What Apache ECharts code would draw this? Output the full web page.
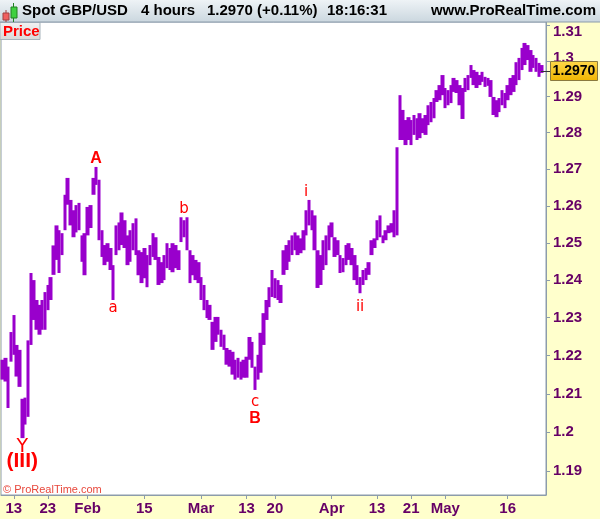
<!DOCTYPE html>
<html><head><meta charset="utf-8">
<script src="https://cdn.jsdelivr.net/npm/echarts@6/dist/echarts.min.js"></script>
<style>html,body{margin:0;padding:0;background:#ffffcc;} #c{width:600px;height:519px;}</style>
</head><body><div id="c"></div>
<script>
// 12-hour slots (two per trading day), high / low of Spot GBP/USD
const highs = [
1.2189,1.2194,1.2171,1.2262,1.2307,1.2228,1.2215,1.2087,1.2090,1.2240,
1.2419,1.2400,1.2347,1.2334,1.2347,1.2368,1.2387,1.2408,1.2493,1.2547,
1.2534,1.2526,1.2630,1.2676,1.2616,1.2588,1.2602,1.2608,1.2520,1.2526,
1.2597,1.2602,1.2676,1.2706,1.2671,1.2534,1.2494,1.2499,1.2486,1.2440,
1.2547,1.2555,1.2582,1.2561,1.2520,1.2534,1.2553,1.2566,1.2480,1.2475,
1.2486,1.2467,1.2494,1.2526,1.2515,1.2462,1.2448,1.2467,1.2499,1.2486,
1.2499,1.2494,1.2480,1.2569,1.2561,1.2569,1.2480,1.2467,1.2454,1.2448,
1.2408,1.2387,1.2347,1.2334,1.2289,1.2302,1.2302,1.2268,1.2255,1.2220,
1.2215,1.2210,1.2189,1.2194,1.2184,1.2189,1.2197,1.2249,1.2236,1.2171,
1.2202,1.2260,1.2312,1.2347,1.2381,1.2427,1.2405,1.2400,1.2387,1.2480,
1.2494,1.2507,1.2520,1.2528,1.2520,1.2512,1.2534,1.2588,1.2616,1.2588,
1.2574,1.2480,1.2467,1.2507,1.2520,1.2547,1.2555,1.2515,1.2507,1.2467,
1.2459,1.2494,1.2499,1.2486,1.2467,1.2440,1.2408,1.2427,1.2432,1.2448,
1.2507,1.2512,1.2561,1.2574,1.2520,1.2534,1.2547,1.2553,1.2588,1.2760,
1.2904,1.2863,1.2835,1.2843,1.2835,1.2849,1.2840,1.2854,1.2840,1.2849,
1.2876,1.2885,1.2896,1.2918,1.2932,1.2960,1.2924,1.2918,1.2932,1.2952,
1.2946,1.2932,1.2924,1.2952,1.2960,1.2988,1.2974,1.2969,1.2960,1.2969,
1.2955,1.2952,1.2946,1.2899,1.2890,1.2896,1.2918,1.2910,1.2932,1.2952,
1.2960,1.2996,1.3008,1.3036,1.3050,1.3044,1.3030,1.3016,1.3008,1.2994,
1.2988,null];
const lows = [
1.2137,1.2132,1.2063,1.2184,1.2202,1.2145,1.2118,1.1985,1.2020,1.2040,
1.2228,1.2294,1.2268,1.2255,1.2268,1.2268,1.2320,1.2347,1.2414,1.2454,
1.2419,1.2467,1.2534,1.2603,1.2547,1.2515,1.2528,1.2534,1.2449,1.2413,
1.2520,1.2540,1.2630,1.2657,1.2507,1.2462,1.2440,1.2449,1.2427,1.2347,
1.2467,1.2480,1.2494,1.2486,1.2440,1.2449,1.2480,1.2467,1.2413,1.2392,
1.2405,1.2381,1.2440,1.2462,1.2454,1.2387,1.2392,1.2400,1.2432,1.2427,
1.2421,1.2432,1.2427,1.2502,1.2515,1.2480,1.2392,1.2413,1.2400,1.2392,
1.2347,1.2320,1.2299,1.2294,1.2215,1.2236,1.2255,1.2223,1.2215,1.2176,
1.2171,1.2150,1.2137,1.2142,1.2137,1.2142,1.2142,1.2189,1.2168,1.2110,
1.2137,1.2155,1.2228,1.2294,1.2328,1.2355,1.2352,1.2347,1.2339,1.2414,
1.2427,1.2449,1.2467,1.2480,1.2467,1.2472,1.2480,1.2520,1.2547,1.2534,
1.2480,1.2379,1.2387,1.2427,1.2440,1.2480,1.2515,1.2462,1.2467,1.2419,
1.2421,1.2440,1.2454,1.2440,1.2400,1.2387,1.2365,1.2387,1.2400,1.2414,
1.2467,1.2486,1.2507,1.2515,1.2499,1.2507,1.2526,1.2528,1.2515,1.2520,
1.2780,1.2780,1.2766,1.2780,1.2766,1.2794,1.2780,1.2785,1.2799,1.2794,
1.2821,1.2829,1.2840,1.2885,1.2890,1.2904,1.2868,1.2876,1.2882,1.2913,
1.2910,1.2876,1.2838,1.2913,1.2918,1.2952,1.2932,1.2924,1.2932,1.2941,
1.2927,1.2930,1.2899,1.2849,1.2843,1.2857,1.2876,1.2868,1.2890,1.2904,
1.2913,1.2932,1.2946,1.2974,1.2988,1.3002,1.2969,1.2980,1.2969,1.2955,
1.2966,null];

const tickLabels = ['13','23','Feb','15','Mar','13','20','Apr','13','21','May','16'];
const tickDates = ['2017-01-13','2017-01-23','2017-02-01','2017-02-15','2017-03-01','2017-03-13',
                   '2017-03-20','2017-04-03','2017-04-13','2017-04-21','2017-05-01','2017-05-16'];
const yTicks = [1.19,1.20,1.21,1.22,1.23,1.24,1.25,1.26,1.27,1.28,1.29,1.30,1.31];
const lastPrice = 1.2970;
const waveLabels = [
  {text:'A',     slot:33,  price:1.2706, dy:-8,  bold:true,  size:16},
  {text:'a',     slot:39,  price:1.2347, dy:8,   bold:false, size:15},
  {text:'b',     slot:64,  price:1.2569, dy:-8,  bold:false, size:15},
  {text:'c',     slot:89,  price:1.2110, dy:12,  bold:false, size:15},
  {text:'B',     slot:89,  price:1.2110, dy:29,  bold:true,  size:16},
  {text:'i',     slot:107, price:1.2616, dy:-8,  bold:false, size:15},
  {text:'ii',    slot:126, price:1.2365, dy:14,  bold:false, size:15},
  {text:'Y',     slot:7,   price:1.1985, dy:9,   bold:false, size:19},
  {text:'(III)', slot:7,   price:1.1985, dy:23,  bold:true,  size:21}
];

// categories: weekday 12h slots from 2017-01-11 to 2017-05-24
const categories = [];
{
  const d = new Date(Date.UTC(2017,0,11));
  const end = Date.UTC(2017,4,24);
  while (d.getTime() <= end) {
    const wd = d.getUTCDay();
    if (wd !== 0 && wd !== 6) {
      const s = d.toISOString().slice(0,10);
      categories.push(s + ' 00h', s + ' 12h');
    }
    d.setUTCDate(d.getUTCDate() + 1);
  }
}
const labelMap = {};
tickDates.forEach((s,i) => { labelMap[categories.indexOf(s + ' 00h')] = tickLabels[i]; });
const isTick = (i) => labelMap[i] !== undefined;

const PURPLE = '#9900cc';
const AXC = '#8c9cab';
const LBL = '#660066';
const FONT = '"Liberation Sans", Arial, sans-serif';

const candles = highs.map((h,i) => h == null ? '-' : [lows[i], h, lows[i], h]);

const chart = echarts.init(document.getElementById('c'), null, {renderer:'canvas'});
chart.setOption({
  animation: false,
  backgroundColor: '#ffffcc',
  grid: {left: 1, right: 54, top: 22, bottom: 24, show: true, backgroundColor: '#ffffff',
         borderColor: AXC, borderWidth: 1},
  xAxis: {
    type: 'category', data: categories, boundaryGap: true,
    axisLine: {show: true, lineStyle: {color: AXC}},
    axisTick: {show: true, alignWithLabel: true, interval: (i) => isTick(i), length: 4, lineStyle: {color: AXC}},
    axisLabel: {interval: (i) => isTick(i), formatter: (v, i) => labelMap[i] || '',
                color: LBL, fontWeight: 'bold', fontSize: 15, fontFamily: FONT, margin: 6},
    splitLine: {show: false}
  },
  yAxis: {
    type: 'log', logBase: 10, position: 'right', min: 1.1839, max: 1.3109, scale: true,
    axisLine: {show: true, lineStyle: {color: AXC}},
    axisTick: {show: true, customValues: yTicks, length: 4, lineStyle: {color: AXC}},
    axisLabel: {
      customValues: yTicks, color: LBL, fontWeight: 'bold', fontSize: 15, fontFamily: FONT, margin: 7,
      formatter: (v) => {
        const s = String(+(+v).toFixed(2));
        if (s === '1.31') return '{dn|' + s + '}';
        if (s === '1.3') return '{up|' + s + '}';
        return s;
      },
      rich: {
        dn: {padding: [14,0,0,0], color: LBL, fontWeight: 'bold', fontSize: 15, fontFamily: FONT},
        up: {padding: [0,0,6,0], color: LBL, fontWeight: 'bold', fontSize: 15, fontFamily: FONT}
      }
    },
    splitLine: {show: false}
  },
  series: [{
    type: 'candlestick', data: candles, barWidth: 4,
    itemStyle: {color: PURPLE, color0: PURPLE, borderColor: PURPLE, borderColor0: PURPLE, borderWidth: 0},
    markPoint: {
      symbol: 'rect', symbolSize: 1, itemStyle: {color: 'rgba(0,0,0,0)'},
      data: waveLabels.map(w => ({
        coord: [categories[w.slot], w.price],
        label: {show: true, position: 'inside', offset: [0, w.dy], formatter: w.text,
                color: '#ff0000', fontSize: w.size, fontWeight: w.bold ? 'bold' : 'normal',
                fontFamily: w.bold ? FONT : '"DejaVu Sans", sans-serif'}
      }))
    }
  }]
});

const py = Math.round(chart.convertToPixel({yAxisIndex: 0}, lastPrice));
const hdrFont = 'bold 15px ' + FONT;
chart.setOption({
  graphic: [
    // header
    {type: 'rect', left: 0, top: 0, shape: {width: 600, height: 22}, z: 100,
     style: {fill: new echarts.graphic.LinearGradient(0,0,0,1,[{offset:0,color:'#eef3f6'},{offset:1,color:'#cbd7df'}])}},
    {type: 'line', shape: {x1: 0, y1: 22, x2: 600, y2: 22}, z: 101, style: {stroke: AXC, lineWidth: 1}},
    // icon
    {type: 'line', shape: {x1: 6, y1: 10, x2: 6, y2: 22}, z: 102, style: {stroke: '#a04040', lineWidth: 1}},
    {type: 'rect', shape: {x: 3, y: 13, width: 6, height: 7}, z: 103, style: {fill: '#f06060', stroke: '#a04040', lineWidth: 1}},
    {type: 'line', shape: {x1: 13.5, y1: 3, x2: 13.5, y2: 22}, z: 102, style: {stroke: '#208020', lineWidth: 1}},
    {type: 'rect', shape: {x: 11, y: 7, width: 6, height: 11}, z: 103, style: {fill: '#40d040', stroke: '#208020', lineWidth: 1}},
    {type: 'text', left: 22, top: 3, z: 104, style: {text: 'Spot GBP/USD', fill: '#000', font: hdrFont}},
    {type: 'text', left: 141, top: 3, z: 104, style: {text: '4 hours', fill: '#000', font: hdrFont}},
    {type: 'text', left: 207, top: 3, z: 104, style: {text: '1.2970 (+0.11%)', fill: '#000', font: hdrFont}},
    {type: 'text', left: 327, top: 3, z: 104, style: {text: '18:16:31', fill: '#000', font: hdrFont}},
    {type: 'text', right: 4, top: 3, z: 104, style: {text: 'www.ProRealTime.com', fill: '#000', font: hdrFont}},
    // Price box
    {type: 'rect', shape: {x: 0, y: 22.5, width: 40, height: 17}, z: 100,
     style: {fill: new echarts.graphic.LinearGradient(0,0,0,1,[{offset:0,color:'#f2f2f2'},{offset:1,color:'#d8d8d8'}]), stroke: '#a8b4bc', lineWidth: 1}},
    {type: 'text', left: 3, top: 24, z: 104, style: {text: 'Price', fill: '#ff0000', font: 'bold 15px ' + FONT}},
    // copyright
    {type: 'text', left: 3, top: 484, z: 104, style: {text: '\u00a9 ProRealTime.com', fill: '#e8483c', font: '11px ' + FONT}},
    // last price tag
    {type: 'line', shape: {x1: 541, y1: py + 0.5, x2: 551, y2: py + 0.5}, z: 104, style: {stroke: '#333', lineWidth: 1}},
    {type: 'rect', shape: {x: 550.5, y: py - 9.5, width: 47, height: 19}, z: 104,
     style: {fill: new echarts.graphic.LinearGradient(0,0,0,1,[{offset:0,color:'#ffd84a'},{offset:1,color:'#f0b400'}]), stroke: '#8a7a40', lineWidth: 1}},
    {type: 'text', x: 574, y: py, z: 105,
     style: {text: lastPrice.toFixed(4), fill: '#000', font: 'bold 14px ' + FONT, align: 'center', verticalAlign: 'middle'}}
  ]
});
</script></body></html>
